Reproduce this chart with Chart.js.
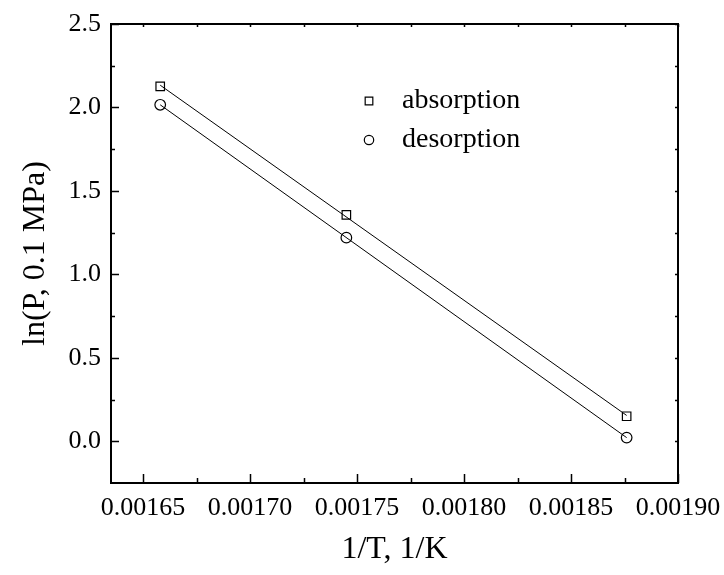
<!DOCTYPE html>
<html>
<head>
<meta charset="utf-8">
<script src="https://cdn.jsdelivr.net/npm/chart.js@4/dist/chart.umd.min.js"></script>
<style>
  html, body { margin: 0; padding: 0; background: #fff; }
  #wrap { width: 724px; height: 575px; }
</style>
</head>
<body>
<div id="wrap"><canvas id="chart" width="724" height="575"></canvas></div>
<script>
// values
const invT = [0.001658, 0.001745, 0.001876];
const absorption = [2.126, 1.356, 0.150];
const desorption = [2.016, 1.220, 0.022];
const seriesNames = ['absorption', 'desorption'];
const xTitle = '1/T, 1/K';
const yTitle = 'ln(P, 0.1 MPa)';

const FONT = '"Liberation Serif", "Times New Roman", serif';

function toPoints(xs, ys) {
  return xs.map((x, i) => ({ x: x, y: ys[i] }));
}

// least squares line, drawn between first and last x
function fitLine(xs, ys) {
  const n = xs.length;
  const mx = xs.reduce((a, b) => a + b, 0) / n;
  const my = ys.reduce((a, b) => a + b, 0) / n;
  let sxy = 0, sxx = 0;
  for (let i = 0; i < n; i++) {
    sxy += (xs[i] - mx) * (ys[i] - my);
    sxx += (xs[i] - mx) * (xs[i] - mx);
  }
  const k = sxy / sxx;
  const b = my - k * mx;
  const x0 = Math.min(...xs), x1 = Math.max(...xs);
  return [{ x: x0, y: k * x0 + b }, { x: x1, y: k * x1 + b }];
}

// frame, inward ticks and the legend
const framePlugin = {
  id: 'frame',
  afterDraw(chart) {
    const ctx = chart.ctx;
    const a = chart.chartArea;
    const xs = chart.scales.x;
    const ys = chart.scales.y;
    ctx.save();
    ctx.strokeStyle = '#000';
    ctx.lineWidth = 2;
    ctx.strokeRect(a.left, a.top, a.right - a.left, a.bottom - a.top);

    ctx.lineWidth = 1.5;
    ctx.beginPath();
    const xMajor = xs.ticks.map(t => t.value);
    xMajor.forEach(v => {
      const p = Math.round(xs.getPixelForValue(v)) + 0.5;
      ctx.moveTo(p, a.bottom); ctx.lineTo(p, a.bottom - 9);
      ctx.moveTo(p, a.top); ctx.lineTo(p, a.top + 3);
    });
    for (let i = 0; i < xMajor.length - 1; i++) {
      const v = (xMajor[i] + xMajor[i + 1]) / 2;
      const p = Math.round(xs.getPixelForValue(v)) + 0.5;
      ctx.moveTo(p, a.bottom); ctx.lineTo(p, a.bottom - 5);
      ctx.moveTo(p, a.top); ctx.lineTo(p, a.top + 3);
    }
    const yMajor = ys.ticks.map(t => t.value);
    yMajor.forEach(v => {
      const p = Math.round(ys.getPixelForValue(v)) + 0.5;
      ctx.moveTo(a.left, p); ctx.lineTo(a.left + 8, p);
      ctx.moveTo(a.right, p); ctx.lineTo(a.right - 3, p);
    });
    for (let i = 0; i < yMajor.length - 1; i++) {
      const v = (yMajor[i] + yMajor[i + 1]) / 2;
      const p = Math.round(ys.getPixelForValue(v)) + 0.5;
      ctx.moveTo(a.left, p); ctx.lineTo(a.left + 4, p);
      ctx.moveTo(a.right, p); ctx.lineTo(a.right - 3, p);
    }
    ctx.stroke();

    // legend
    const lx = a.left + 258, tx = a.left + 291;
    const rows = [a.top + 77, a.top + 116];
    ctx.font = '28px ' + FONT;
    ctx.textBaseline = 'middle';
    [0, 1].forEach(i => {
      const ds = chart.data.datasets[i];
      ctx.lineWidth = 1.2;
      ctx.strokeStyle = '#000';
      ctx.fillStyle = 'rgba(0,0,0,0)';
      Chart.helpers.drawPoint(ctx, {
        pointStyle: ds.pointStyle, radius: ds.pointRadius - 0.6, borderWidth: 1.2
      }, lx, rows[i]);
      ctx.fillStyle = '#000';
      ctx.fillText(seriesNames[i], tx, rows[i]);
    });
    ctx.restore();
  }
};

new Chart(document.getElementById('chart'), {
  type: 'scatter',
  data: {
    datasets: [
      {
        label: seriesNames[0],
        data: toPoints(invT, absorption),
        pointStyle: 'rect',
        pointRadius: 6,
        borderColor: '#000',
        backgroundColor: 'rgba(0,0,0,0)',
        borderWidth: 1.2,
        showLine: false
      },
      {
        label: seriesNames[1],
        data: toPoints(invT, desorption),
        pointStyle: 'circle',
        pointRadius: 5.3,
        borderColor: '#000',
        backgroundColor: 'rgba(0,0,0,0)',
        borderWidth: 1.2,
        showLine: false
      },
      {
        label: 'fit absorption',
        data: fitLine(invT, absorption),
        showLine: true,
        pointRadius: 0,
        borderColor: '#000',
        borderWidth: 1
      },
      {
        label: 'fit desorption',
        data: fitLine(invT, desorption),
        showLine: true,
        pointRadius: 0,
        borderColor: '#000',
        borderWidth: 1
      }
    ]
  },
  options: {
    responsive: false,
    animation: false,
    layout: { padding: { left: 10, right: 46, top: 24, bottom: 6 } },
    plugins: {
      legend: { display: false },
      tooltip: { enabled: false }
    },
    scales: {
      x: {
        type: 'linear',
        min: 0.001635,
        max: 0.0019,
        grid: { display: false, drawTicks: false },
        border: { display: false },
        ticks: {
          stepSize: 0.00005,
          includeBounds: false,
          padding: 10,
          color: '#000',
          font: { family: FONT, size: 26 },
          maxRotation: 0,
          autoSkip: false,
          callback: v => Number(v).toFixed(5)
        },
        title: {
          display: true,
          text: xTitle,
          color: '#000',
          font: { family: FONT, size: 32 },
          padding: { top: 8, bottom: 0 }
        },
        afterFit: s => { s.height = 86; s.paddingLeft = 0; s.paddingRight = 0; }
      },
      y: {
        type: 'linear',
        min: -0.25,
        max: 2.5,
        grid: { display: false, drawTicks: false },
        border: { display: false },
        ticks: {
          stepSize: 0.5,
          includeBounds: false,
          padding: 10,
          color: '#000',
          font: { family: FONT, size: 26 },
          callback: v => Number(v).toFixed(1)
        },
        title: {
          display: true,
          text: yTitle,
          color: '#000',
          font: { family: FONT, size: 32 },
          padding: { top: 6, bottom: 2 }
        },
        afterFit: s => { s.width = 101; s.paddingTop = 0; s.paddingBottom = 0; }
      }
    }
  },
  plugins: [framePlugin]
});
</script>
</body>
</html>
